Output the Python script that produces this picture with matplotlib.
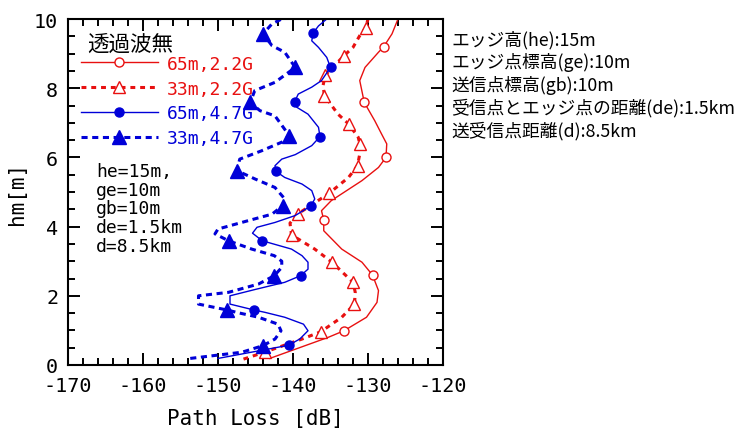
import numpy as np
import matplotlib
matplotlib.use("Agg")
import matplotlib.pyplot as plt

plt.rcParams['axes.unicode_minus'] = False
MONO = 'DejaVu Sans Mono'
JP = ['Noto Sans CJK JP', 'DejaVu Sans']

# --- data: receiver height hm [m] vs path loss [dB] ---
# 65m, 2.2G (red solid, open circles)
h_r65 = [0.19, 0.80, 0.99, 1.38, 1.81, 2.15, 2.60, 2.97, 3.35, 3.88, 4.19, 4.46, 4.75,
         5.33, 5.71, 6.00, 6.39, 6.68, 7.06, 7.59, 8.22, 8.60, 9.04, 9.20, 9.57, 10.0]
pl_r65 = [-143.1, -135.3, -133.2, -130.2, -128.8, -128.6, -129.4, -130.8, -133.5, -135.9,
          -135.9, -136.2, -134.9, -130.8, -128.6, -127.6, -127.5, -128.2, -129.1, -130.5,
          -131.1, -130.4, -128.6, -127.9, -126.8, -126.0]
mk_r65 = [0.99, 2.60, 4.19, 6.00, 7.59, 9.20]

# 33m, 2.2G (red dashed, open triangles)
h_r33 = [0.17, 0.37, 0.75, 0.96, 1.38, 1.76, 2.10, 2.39, 2.97, 3.35, 3.76, 4.10, 4.36,
         4.96, 5.42, 5.76, 6.10, 6.39, 6.58, 6.97, 7.25, 7.78, 8.07, 8.38, 8.94, 9.18,
         9.52, 9.74, 10.0]
pl_r33 = [-146.6, -143.8, -138.8, -136.3, -133.5, -131.8, -131.7, -132.0, -134.8, -137.1,
          -140.2, -140.4, -139.4, -135.2, -132.6, -131.4, -131.1, -131.1, -131.3, -132.6,
          -134.0, -135.8, -136.0, -135.7, -133.2, -132.0, -131.1, -130.3, -130.0]
mk_r33 = [0.37, 0.96, 1.76, 2.39, 2.97, 3.76, 4.36, 4.96, 5.76, 6.39, 6.97, 7.78, 8.38,
          8.94, 9.74]

# 65m, 4.7G (blue solid, filled circles)
h_b65 = [0.19, 0.57, 0.75, 0.99, 1.18, 1.38, 1.52, 1.59, 1.76, 2.00, 2.18, 2.39, 2.58,
         2.77, 2.97, 3.16, 3.35, 3.59, 3.81, 3.98, 4.12, 4.32, 4.60, 4.80, 5.04, 5.23,
         5.42, 5.60, 5.76, 5.95, 6.08, 6.34, 6.60, 6.87, 7.25, 7.45, 7.60, 7.83, 8.03,
         8.22, 8.60, 8.89, 9.18, 9.37, 9.60, 9.80, 10.0]
pl_b65 = [-150.0, -140.6, -139.1, -138.0, -138.6, -141.1, -143.7, -145.2, -148.4, -148.4,
          -145.1, -141.1, -139.0, -138.0, -138.0, -138.8, -140.2, -144.1, -145.4, -144.8,
          -142.4, -139.7, -137.6, -137.1, -137.5, -138.8, -141.1, -142.3, -142.4, -141.5,
          -139.7, -137.5, -136.4, -136.6, -138.0, -139.5, -139.8, -139.3, -137.5, -136.2,
          -135.0, -135.5, -136.6, -137.5, -137.3, -136.6, -135.5]
mk_b65 = [0.57, 1.59, 2.58, 3.59, 4.60, 5.60, 6.60, 7.60, 8.60, 9.60]

# 33m, 4.7G (blue dashed, filled triangles)
h_b33 = [0.19, 0.37, 0.56, 0.75, 0.99, 1.18, 1.38, 1.50, 1.59, 1.76, 2.00, 2.10, 2.34,
         2.58, 2.82, 3.00, 3.16, 3.35, 3.59, 3.79, 3.93, 4.17, 4.36, 4.60, 4.80, 5.13,
         5.38, 5.62, 5.95, 6.19, 6.44, 6.63, 7.20, 7.35, 7.59, 7.93, 8.17, 8.60, 9.04,
         9.23, 9.57, 9.86, 10.0]
pl_b33 = [-153.7, -146.8, -144.0, -142.4, -141.6, -142.0, -144.6, -147.1, -148.8, -152.6,
          -152.6, -148.6, -144.6, -142.5, -141.5, -141.5, -142.5, -145.5, -148.6, -150.4,
          -150.0, -146.0, -142.8, -141.4, -141.1, -142.4, -145.1, -147.5, -147.1, -144.2,
          -141.5, -140.5, -142.4, -144.4, -145.7, -145.1, -142.4, -139.7, -141.1, -142.8,
          -144.0, -142.8, -141.5]
mk_b33 = [0.56, 1.59, 2.58, 3.59, 4.60, 5.62, 6.63, 7.59, 8.60, 9.57]

labels = ['65m,2.2G', '33m,2.2G', '65m,4.7G', '33m,4.7G']
legend_title = '透過波無'
params = ['he=15m,', 'ge=10m', 'gb=10m', 'de=1.5km', 'd=8.5km']
notes = ['エッジ高(he):15m', 'エッジ点標高(ge):10m', '送信点標高(gb):10m',
         '受信点とエッジ点の距離(de):1.5km', '送受信点距離(d):8.5km']

RED = '#e81010'
BLUE = '#0000d8'

fig = plt.figure(figsize=(7.4, 4.35), dpi=100)
ax = fig.add_axes([68 / 740, 69 / 435, 375 / 740, 346 / 435])


def mark_idx(h, mk):
    return [i for i, v in enumerate(h) if np.any(np.isclose(v, mk))]


series = [
    (h_r65, pl_r65, mk_r65, dict(color=RED, lw=1.0, ls='-', marker='o', ms=6.5,
                                 mfc='white', mec=RED, mew=1.0)),
    (h_r33, pl_r33, mk_r33, dict(color=RED, lw=2.2, ls=(0, (1.6, 1.6)), marker='^', ms=9,
                                 mfc='white', mec=RED, mew=1.0)),
    (h_b65, pl_b65, mk_b65, dict(color=BLUE, lw=1.0, ls='-', marker='o', ms=6.5,
                                 mfc=BLUE, mec=BLUE)),
    (h_b33, pl_b33, mk_b33, dict(color=BLUE, lw=2.2, ls=(0, (2.0, 1.5)), marker='^', ms=9.5,
                                 mfc=BLUE, mec=BLUE)),
]
handles = []
for (h, pl, mk, st), lab in zip(series, labels):
    ln, = ax.plot(pl, h, markevery=mark_idx(h, mk), label=lab, **st)
    handles.append(ln)

ax.set_xlim(-170, -120)
ax.set_ylim(0, 10)
ax.set_xticks(np.arange(-170, -119, 10))
ax.set_xticks(np.arange(-170, -119, 2), minor=True)
ax.set_yticks(np.arange(0, 10.1, 2))
ax.set_yticks(np.arange(0, 10.1, 0.5), minor=True)
ax.tick_params(which='both', direction='in', top=True, right=True, width=1.4)
ax.tick_params(which='major', length=8.5, labelsize=14.5)
ax.tick_params(axis='x', which='major', pad=8)
ax.tick_params(axis='y', which='major', pad=7)
ax.tick_params(which='minor', length=4.8)
for lab in ax.get_xticklabels() + ax.get_yticklabels():
    lab.set_family(MONO)
for sp in ax.spines.values():
    sp.set_linewidth(1.5)

ax.set_xlabel('Path Loss [dB]', family=MONO, fontsize=15, labelpad=9)
ax.set_ylabel('hm[m]', family=MONO, fontsize=15, labelpad=5)

# legend title as its own text, entries below it
ax.text(19 / 375, 1 - 25 / 346, legend_title, transform=ax.transAxes, family=JP,
        fontsize=15.5, va='center', ha='left')
leg = ax.legend(handles=handles, loc='upper left', bbox_to_anchor=(0.0, 1 - 23 / 346),
                frameon=False, handlelength=4.3, handletextpad=0.45, labelspacing=0.38,
                borderaxespad=0.3, numpoints=1,
                prop={'family': MONO, 'size': 13}, labelcolor='linecolor')

ax.text(28 / 375, 1 - 143 / 346, '\n'.join(params), transform=ax.transAxes, family=MONO,
        fontsize=13, va='top', ha='left', linespacing=1.05)

for i, s in enumerate(notes):
    fig.text(451 / 740, 1 - (40 + i * 22.8) / 435, s, family=JP, fontsize=12.8,
             va='center', ha='left')

fig.savefig('out.png', dpi=100)
